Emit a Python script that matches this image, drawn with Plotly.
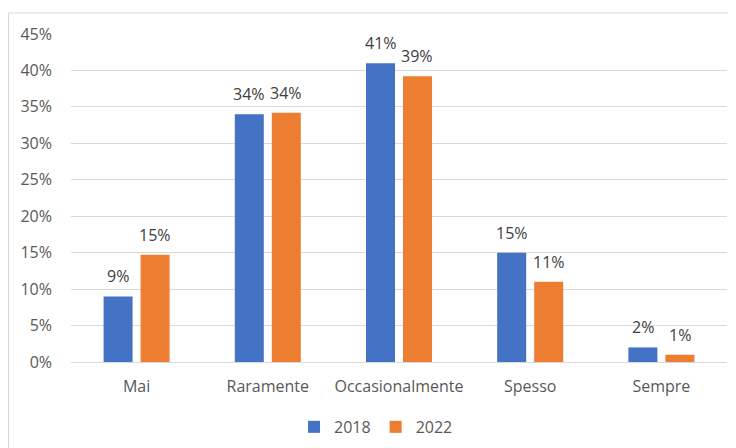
import plotly.graph_objects as go

categories = ["Mai", "Raramente", "Occasionalmente", "Spesso", "Sempre"]
values_2018 = [9, 34, 41, 15, 2]
values_2022 = [14.7, 34.2, 39.2, 11, 1]
y_ticks = [0, 5, 10, 15, 20, 25, 30, 35, 40, 45]
y_tick_labels = ["0%", "5%", "10%", "15%", "20%", "25%", "30%", "35%", "40%", "45%"]

BLUE = "#4472C4"
ORANGE = "#ED7D31"
GRID = "#D9D9D9"
TXT = "#595959"
FONT = "Open Sans"
FS = 16

W, H = 728, 440
ML, MR, MT = 63, 9, 25.5
PH = 328.2
MB = H - MT - PH
PW = W - ML - MR

fig = go.Figure()
series = [("2018", values_2018, BLUE, -1), ("2022", values_2022, ORANGE, 1)]
slot_px = PW / len(categories) * (1 - 0.436) / 2
annotations = []
for name, vals, col, side in series:
    fig.add_trace(go.Bar(
        x=categories, y=vals, name=name, marker_color=col, marker_line_width=0,
    ))
    for c, v in zip(categories, vals):
        annotations.append(dict(
            x=c, y=v, xref="x", yref="y", text=f"{v:.0f}%", showarrow=False,
            xanchor="center", yanchor="bottom", xshift=side * slot_px / 2, yshift=7,
            font=dict(family=FONT, size=FS, color="#404040"),
        ))

fig.update_layout(
    width=W, height=H,
    margin=dict(l=ML, r=MR, t=MT, b=MB, autoexpand=False),
    paper_bgcolor="white", plot_bgcolor="white",
    barmode="group", bargap=0.436, bargroupgap=0.216,
    font=dict(family=FONT, size=FS, color=TXT),
    showlegend=True,
    legend=dict(orientation="h", x=0.465, xanchor="center", y=-0.198, yanchor="middle",
                font=dict(family=FONT, size=FS, color=TXT), itemwidth=30),
    yaxis=dict(range=[0, 45], tickmode="array", tickvals=y_ticks, ticktext=y_tick_labels,
               showgrid=True, gridcolor=GRID, gridwidth=1, zeroline=False, showline=False,
               ticklabelstandoff=18, automargin=False,
               tickfont=dict(family=FONT, size=FS, color=TXT)),
    xaxis=dict(showline=True, linecolor=GRID, linewidth=1, showgrid=False, automargin=False,
               ticks="", ticklabelstandoff=10, tickfont=dict(family=FONT, size=FS, color=TXT)),
    annotations=annotations,
    shapes=[dict(type="rect", xref="paper", yref="paper",
                 x0=(0.5 - ML) / PW, x1=1.2, y0=(MT + PH - 4.5) / PH, y1=-0.5,
                 line=dict(color=GRID, width=1), fillcolor="rgba(0,0,0,0)", layer="below")],
)

fig.write_html("out.html")
